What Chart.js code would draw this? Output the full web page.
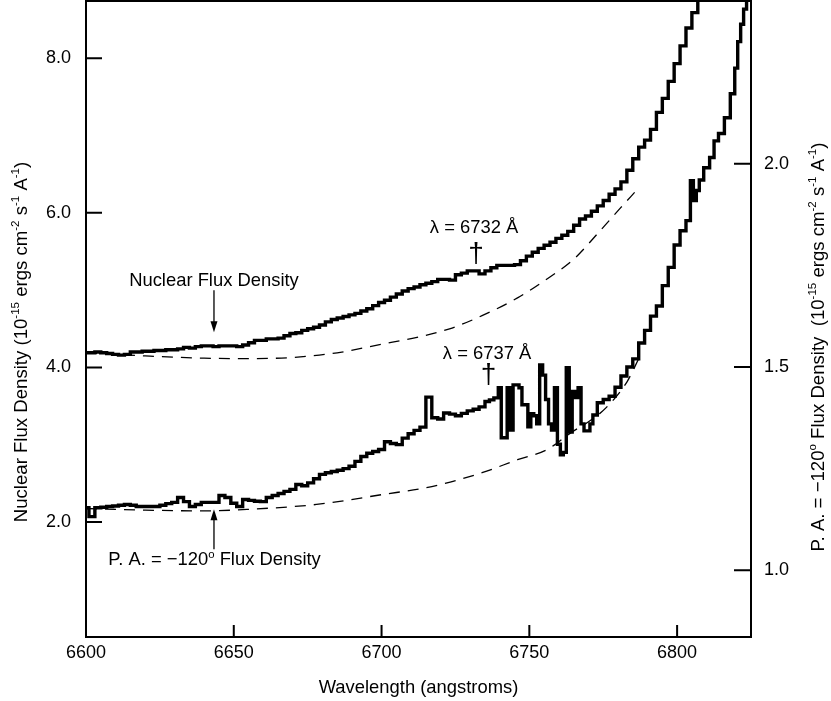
<!DOCTYPE html>
<html><head><meta charset="utf-8">
<script src="https://cdn.jsdelivr.net/npm/chart.js@4.4.0/dist/chart.umd.min.js"></script>
<style>html,body{margin:0;padding:0;background:#fff;overflow:hidden}</style>
</head><body>
<canvas id="c" width="831" height="701" style="width:831px;height:701px;display:block"></canvas>
<script>
// ---------------- DATA ----------------
const nuclearWavelength = [
6600,6602,6604,6606,6608,6610,6612,6614,6616,6618,
6620,6622,6624,6626,6628,6630,6632,6634,6636,6638,
6640,6642,6644,6646,6648,6650,6652,6654,6656,6658,
6660,6662,6664,6666,6668,6670,6672,6674,6676,6678,
6680,6682,6684,6686,6688,6690,6692,6694,6696,6698,
6700,6702,6704,6706,6708,6710,6712,6714,6716,6718,
6720,6722,6724,6726,6728,6730,6732,6734,6736,6738,
6740,6742,6744,6746,6748,6750,6752,6754,6756,6758,
6760,6762,6764,6766,6768,6770,6772,6774,6776,6778,
6780,6782,6784,6786,6788,6790,6792,6794,6796,6798,
6800,6802,6804,6806,6808];
const nuclearFlux = [
4.19,4.19,4.20,4.19,4.18,4.17,4.16,4.17,4.20,4.20,
4.21,4.21,4.22,4.22,4.23,4.23,4.24,4.26,4.25,4.27,
4.28,4.28,4.27,4.28,4.28,4.28,4.27,4.29,4.32,4.35,
4.35,4.37,4.37,4.38,4.41,4.44,4.45,4.48,4.50,4.52,
4.55,4.59,4.62,4.64,4.66,4.68,4.70,4.73,4.76,4.80,
4.84,4.87,4.91,4.95,4.99,5.02,5.04,5.07,5.09,5.11,
5.14,5.14,5.13,5.20,5.22,5.25,5.25,5.21,5.25,5.29,
5.32,5.32,5.32,5.33,5.38,5.44,5.49,5.54,5.58,5.62,
5.67,5.71,5.76,5.84,5.92,5.96,6.02,6.09,6.16,6.24,
6.31,6.40,6.55,6.70,6.85,6.94,7.08,7.30,7.48,7.70,
7.93,8.16,8.39,8.59,8.82];

const nuclearContWavelength = [6600,6620,6640,6655,6670,6685,6700,6712,6723,6734,6746,6755,6765,6774,6781,6786];
const nuclearContinuum      = [4.19,4.15,4.12,4.115,4.13,4.19,4.30,4.39,4.50,4.67,4.90,5.12,5.40,5.77,6.07,6.28];

const paWavelength = [
6600,6602,6604,6606,6608,6610,6612,6614,6616,6618,
6620,6622,6624,6626,6628,6630,6632,6634,6636,6638,
6640,6642,6644,6646,6648,6650,6652,6654,6656,6658,
6660,6662,6664,6666,6668,6670,6672,6674,6676,6678,
6680,6682,6684,6686,6688,6690,6692,6694,6696,6698,
6700,6702,6704,6706,6708,6710,6712,6714,6716,6718,
6720,6722,6724,6726,6728,6730,6732,6734,6736,6737,
6739,6740,6741,6742,6743,6744,6745,6746,6747,6748,
6749,6750,6751,6752,6753,6754,6755,6756,6757,6758,
6759,6760,6761,6762,6763,6764,6765,6766,6767,6768,
6769,6770,6771,6772,6774,6776,6778,6780,6782,6784,
6786,6788,6790,6792,6794,6796,6798,6800,6802,6804,
6805,6806,6807,6808,6810,6812,6813,6815,6817,6819,
6820,6821,6822,6823,6824];
const paFlux = [
1.154,1.132,1.154,1.155,1.157,1.158,1.160,1.162,1.160,1.157,
1.157,1.157,1.157,1.160,1.164,1.167,1.179,1.169,1.157,1.162,
1.167,1.167,1.167,1.184,1.179,1.165,1.157,1.174,1.172,1.170,
1.169,1.179,1.184,1.189,1.194,1.199,1.211,1.208,1.215,1.225,
1.236,1.240,1.243,1.246,1.250,1.256,1.268,1.280,1.288,1.292,
1.297,1.316,1.312,1.309,1.325,1.336,1.344,1.352,1.426,1.375,
1.372,1.387,1.384,1.380,1.386,1.392,1.396,1.402,1.415,1.419,
1.424,1.449,1.326,1.326,1.449,1.345,1.456,1.456,1.449,1.407,
1.407,1.353,1.385,1.380,1.360,1.505,1.480,1.420,1.360,1.345,
1.449,1.310,1.284,1.290,1.498,1.340,1.440,1.425,1.449,1.360,
1.343,1.343,1.360,1.382,1.412,1.420,1.428,1.450,1.478,1.500,
1.520,1.559,1.590,1.625,1.650,1.700,1.745,1.800,1.835,1.860,
1.958,1.909,1.934,1.960,1.990,2.015,2.056,2.074,2.113,2.172,
2.235,2.300,2.343,2.380,2.420];

const paContWavelength = [6600,6620,6640,6655,6678,6700,6717,6734,6746,6756,6764,6771,6776,6783,6787];
const paContinuum      = [1.152,1.148,1.146,1.150,1.162,1.186,1.206,1.240,1.272,1.297,1.338,1.370,1.400,1.463,1.52];

const xTickStep = 50, leftTickStep = 2, rightTickStep = 0.5;

// ---------------- CHART ----------------
const FONT = '"Liberation Sans", Arial, Helvetica, sans-serif';
Chart.defaults.font.family = FONT;
Chart.defaults.font.size = 18;
Chart.defaults.color = '#000';

const pts = (xs, ys) => xs.map((x, i) => ({x, y: ys[i]}));

function richWidth(ctx, segs, size) {
  let w = 0;
  segs.forEach(s => { ctx.font = (s.sup ? size * 0.62 : size) + 'px ' + FONT; w += ctx.measureText(s.t).width; });
  return w;
}
function drawRich(ctx, segs, x, y, size, align) {
  const w = richWidth(ctx, segs, size);
  let cx = align === 'center' ? x - w / 2 : x;
  ctx.textAlign = 'left'; ctx.textBaseline = 'alphabetic';
  segs.forEach(s => {
    const fs = s.sup ? size * 0.62 : size;
    ctx.font = fs + 'px ' + FONT;
    ctx.fillText(s.t, cx, s.sup ? y - size * 0.42 : y);
    cx += ctx.measureText(s.t).width;
  });
}
function arrow(ctx, x, yFrom, yTo) {
  const dir = yTo > yFrom ? 1 : -1;
  ctx.beginPath(); ctx.moveTo(x, yFrom); ctx.lineTo(x, yTo - dir * 8); ctx.stroke();
  ctx.beginPath(); ctx.moveTo(x, yTo); ctx.lineTo(x - 3.5, yTo - dir * 11); ctx.lineTo(x + 3.5, yTo - dir * 11); ctx.closePath(); ctx.fill();
}
function noPad(s) { s.paddingTop = 0; s.paddingBottom = 0; s.paddingLeft = 0; s.paddingRight = 0; }

const decor = {
  id: 'decor',
  afterDraw(chart) {
    const ctx = chart.ctx, ca = chart.chartArea;
    const sx = chart.scales.x, sy = chart.scales.y, sy2 = chart.scales.y2;
    ctx.save();
    ctx.strokeStyle = '#000'; ctx.fillStyle = '#000'; ctx.lineWidth = 2;
    ctx.strokeRect(ca.left, ca.top, ca.right - ca.left, ca.bottom - ca.top);
    ctx.beginPath();
    sx.ticks.forEach(t => { const p = sx.getPixelForValue(t.value); ctx.moveTo(p, ca.bottom); ctx.lineTo(p, ca.bottom - 12); });
    sy.ticks.forEach(t => { const p = sy.getPixelForValue(t.value); ctx.moveTo(ca.left, p); ctx.lineTo(ca.left + 16, p); });
    sy2.ticks.forEach(t => { const p = sy2.getPixelForValue(t.value); ctx.moveTo(ca.right, p); ctx.lineTo(ca.right - 17, p); });
    ctx.stroke();

    // axis titles
    const unit = [
      {t: ' (10'}, {t: '-15', sup: true}, {t: ' ergs cm'}, {t: '-2', sup: true},
      {t: ' s'}, {t: '-1', sup: true}, {t: ' A'}, {t: '-1', sup: true}, {t: ')'}];
    ctx.save(); ctx.translate(27, (ca.top + ca.bottom) / 2 + 23); ctx.rotate(-Math.PI / 2);
    drawRich(ctx, [{t: 'Nuclear Flux Density'}].concat(unit), 0, 0, 18.6, 'center');
    ctx.restore();
    ctx.save(); ctx.translate(824, (ca.top + ca.bottom) / 2 + 28); ctx.rotate(-Math.PI / 2);
    drawRich(ctx, [{t: 'P. A. = \u2212120'}, {t: 'o', sup: true}, {t: ' Flux Density '}].concat(unit), 0, 0, 18.6, 'center');
    ctx.restore();
    drawRich(ctx, [{t: 'Wavelength (angstroms)'}], (ca.left + ca.right) / 2, 693, 18.4, 'center');

    // annotations (anchored in data units)
    ctx.lineWidth = 1.3;
    const ax = sx.getPixelForValue(6643.3);
    drawRich(ctx, [{t: 'Nuclear Flux Density'}], sx.getPixelForValue(6643.3), sy.getPixelForValue(5.058), 18.4, 'center');
    arrow(ctx, ax, sy.getPixelForValue(5.0), sy.getPixelForValue(4.455));
    drawRich(ctx, [{t: 'P. A. = \u2212120'}, {t: 'o', sup: true}, {t: ' Flux Density'}], sx.getPixelForValue(6643.5), sy2.getPixelForValue(1.012), 18.4, 'center');
    arrow(ctx, ax, sy2.getPixelForValue(1.0515), sy2.getPixelForValue(1.150));

    drawRich(ctx, [{t: '\u03bb = 6732 \u00c5'}], sx.getPixelForValue(6731.3), sy.getPixelForValue(5.743), 18.4, 'center');
    drawRich(ctx, [{t: '\u03bb = 6737 \u00c5'}], sx.getPixelForValue(6735.7), sy2.getPixelForValue(1.520), 18.4, 'center');
    ctx.font = '28px ' + FONT; ctx.textAlign = 'center'; ctx.textBaseline = 'middle';
    ctx.fillText('\u2020', sx.getPixelForValue(6732), sy.getPixelForValue(5.47));
    ctx.fillText('\u2020', sx.getPixelForValue(6736.2), sy2.getPixelForValue(1.48));
    ctx.restore();
  }
};

new Chart(document.getElementById('c'), {
  type: 'line',
  data: {
    datasets: [
      {data: pts(nuclearContWavelength, nuclearContinuum), yAxisID: 'y', borderColor: '#000', borderWidth: 1.3, borderDash: [11, 8], pointRadius: 0, cubicInterpolationMode: 'monotone', tension: 0.4},
      {data: pts(paContWavelength, paContinuum), yAxisID: 'y2', borderColor: '#000', borderWidth: 1.3, borderDash: [11, 8], pointRadius: 0, cubicInterpolationMode: 'monotone', tension: 0.4},
      {data: pts(nuclearWavelength, nuclearFlux), yAxisID: 'y', borderColor: '#000', borderWidth: 3.4, stepped: 'middle', pointRadius: 0},
      {data: pts(paWavelength, paFlux), yAxisID: 'y2', borderColor: '#000', borderWidth: 3.4, stepped: 'middle', pointRadius: 0}
    ]
  },
  options: {
    responsive: false, animation: false, devicePixelRatio: 1,
    layout: {padding: {left: 0, right: 0, top: 1, bottom: 0}},
    plugins: {legend: {display: false}, tooltip: {enabled: false}},
    scales: {
      x: {type: 'linear', min: 6600, max: 6825, afterFit: s => { s.height = 64; noPad(s); },
        grid: {display: false, drawTicks: false}, border: {display: false},
        ticks: {stepSize: xTickStep, includeBounds: false, padding: 5, maxRotation: 0, autoSkip: false, callback: v => String(v)}},
      y: {type: 'linear', position: 'left', min: 0.514, max: 8.74, afterFit: s => { s.width = 86; noPad(s); },
        grid: {display: false, drawTicks: false}, border: {display: false},
        ticks: {stepSize: leftTickStep, includeBounds: false, padding: 15, callback: v => v.toFixed(1)}},
      y2: {type: 'linear', position: 'right', min: 0.836, max: 2.40, afterFit: s => { s.width = 80; noPad(s); },
        grid: {display: false, drawTicks: false}, border: {display: false},
        ticks: {stepSize: rightTickStep, includeBounds: false, padding: 13, callback: v => v.toFixed(1)}}
    }
  },
  plugins: [decor]
});
</script>
</body></html>
